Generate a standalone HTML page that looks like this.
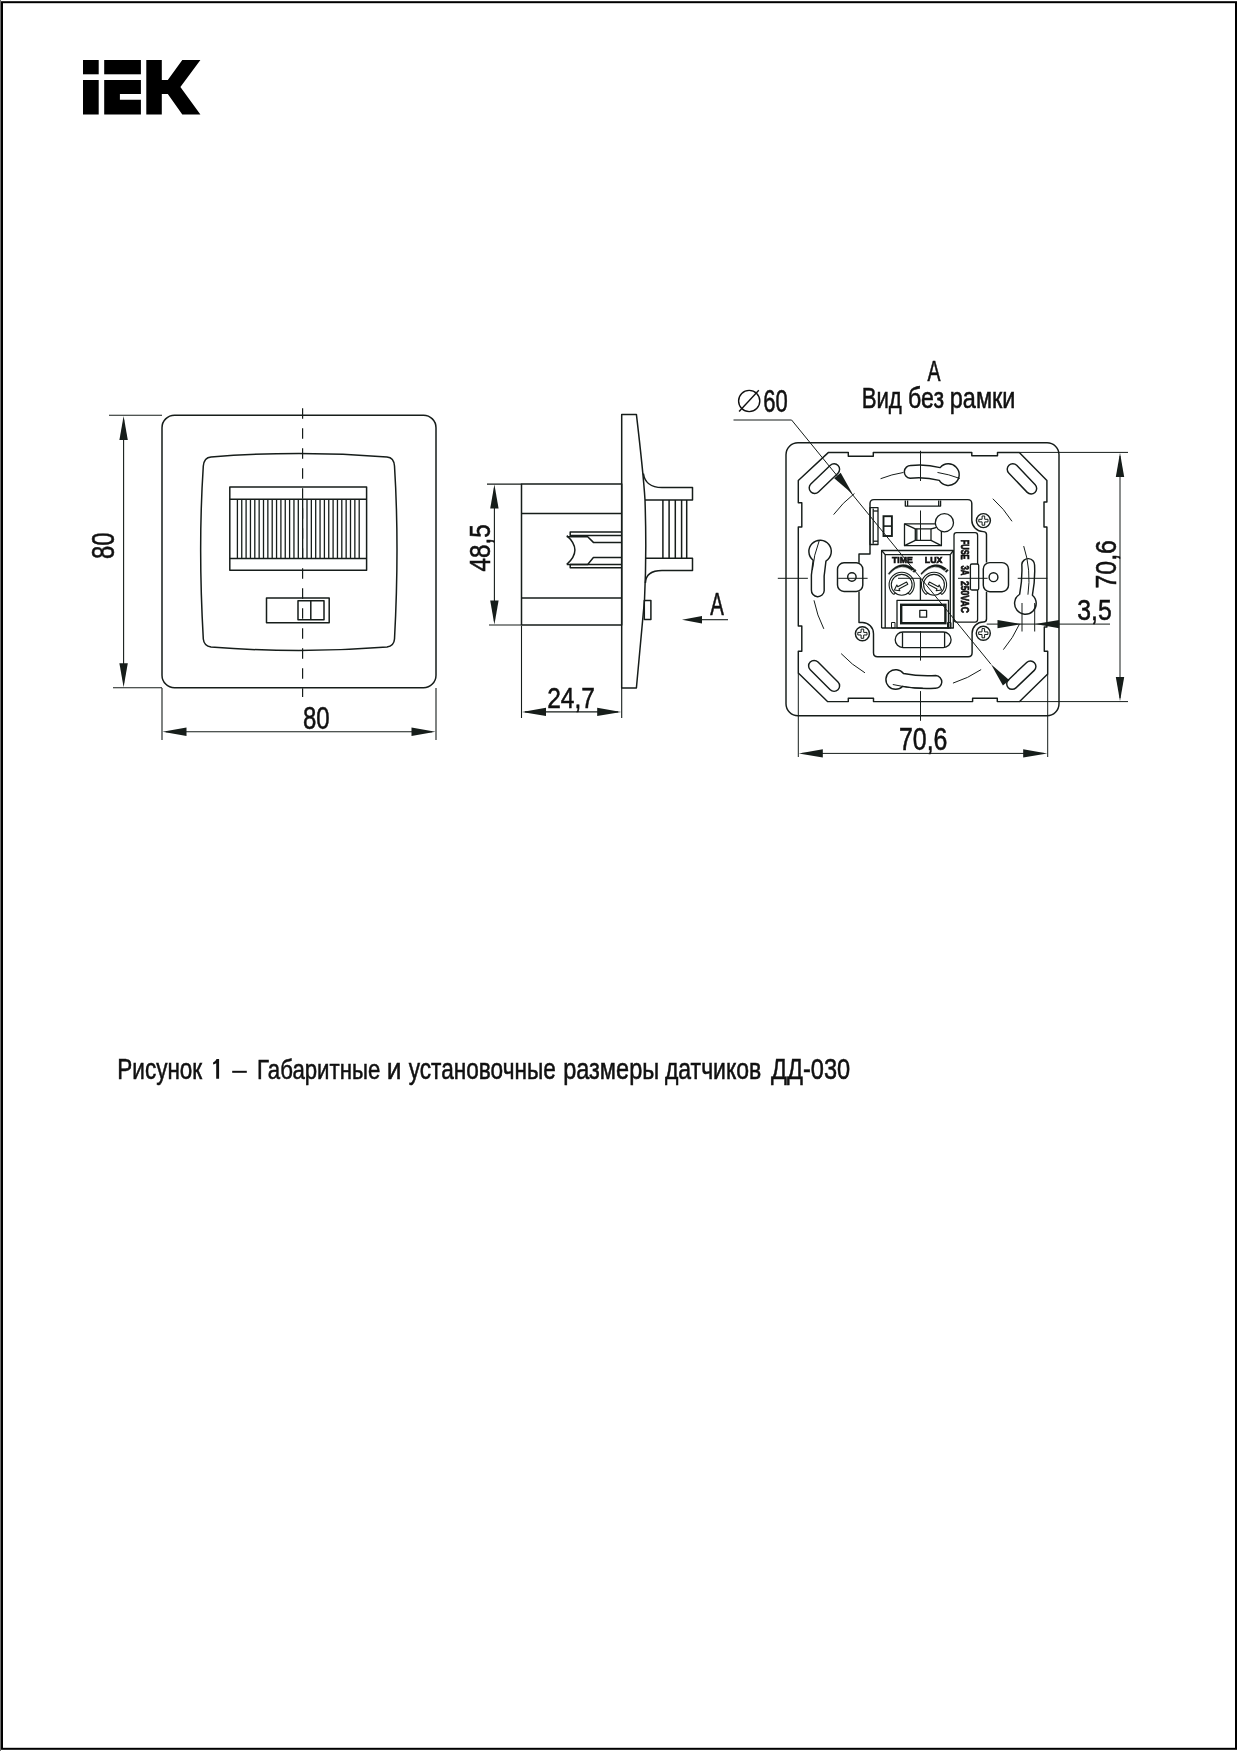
<!DOCTYPE html>
<html><head><meta charset="utf-8"><title>IEK ДД-030</title>
<style>html,body{margin:0;padding:0;background:#fff;}svg{display:block;will-change:transform;}</style>
</head><body><svg width="1238" height="1751" viewBox="0 0 1238 1751"><rect x="0" y="0" width="1" height="1751" fill="#6e6e6e"/><rect x="2" y="2.2" width="1234" height="1746.6" fill="none" stroke="#000" stroke-width="2"/><g fill="#000"><rect x="83" y="60" width="15.7" height="14.3"/><rect x="83" y="80" width="15.7" height="34.5"/><rect x="104.2" y="60" width="36.7" height="14.3"/><path d="M104.2 80 H140.9 V94.1 H119.9 V99.8 H140.9 V114.5 H104.2 Z"/><path d="M146.3 60 H161.8 V79.9 H167.8 L182.3 60 H200.4 L180.4 87 L200.4 114.5 H182.3 L167.8 94.1 H161.8 V114.5 H146.3 Z"/></g><g fill="none" stroke="#161d1a" stroke-width="1.5" stroke-linejoin="round" ><rect x="162" y="415.2" width="274" height="272.5" rx="12.5" ry="12.5"/><path d="M211 456.9 Q299 450 387 456.9 Q394 457.5 394.5 466 Q399.5 546.6 394.5 639 Q394 646 387 647 Q299 654 211 647 Q204 646 203.3 639 Q198 546.6 203.3 466 Q204 457.5 211 456.9 Z"/><rect x="229.8" y="487" width="136.8" height="83.2"/><line x1="229.80" y1="499.30" x2="366.60" y2="499.30"/><line x1="229.80" y1="558.50" x2="366.60" y2="558.50"/><rect x="266.5" y="598" width="62.7" height="24.7"/><rect x="298" y="600.7" width="26" height="19"/><line x1="310.80" y1="600.70" x2="310.80" y2="619.70"/></g><g fill="none" stroke="#161d1a" stroke-width="1.3" stroke-linejoin="round" ><line x1="237.40" y1="499.30" x2="237.40" y2="558.50"/><line x1="241.75" y1="499.30" x2="241.75" y2="558.50"/><line x1="246.10" y1="499.30" x2="246.10" y2="558.50"/><line x1="250.45" y1="499.30" x2="250.45" y2="558.50"/><line x1="254.80" y1="499.30" x2="254.80" y2="558.50"/><line x1="259.15" y1="499.30" x2="259.15" y2="558.50"/><line x1="263.50" y1="499.30" x2="263.50" y2="558.50"/><line x1="267.85" y1="499.30" x2="267.85" y2="558.50"/><line x1="272.20" y1="499.30" x2="272.20" y2="558.50"/><line x1="276.55" y1="499.30" x2="276.55" y2="558.50"/><line x1="280.90" y1="499.30" x2="280.90" y2="558.50"/><line x1="285.25" y1="499.30" x2="285.25" y2="558.50"/><line x1="289.60" y1="499.30" x2="289.60" y2="558.50"/><line x1="293.95" y1="499.30" x2="293.95" y2="558.50"/><line x1="298.30" y1="499.30" x2="298.30" y2="558.50"/><line x1="302.65" y1="499.30" x2="302.65" y2="558.50"/><line x1="307.00" y1="499.30" x2="307.00" y2="558.50"/><line x1="311.35" y1="499.30" x2="311.35" y2="558.50"/><line x1="315.70" y1="499.30" x2="315.70" y2="558.50"/><line x1="320.05" y1="499.30" x2="320.05" y2="558.50"/><line x1="324.40" y1="499.30" x2="324.40" y2="558.50"/><line x1="328.75" y1="499.30" x2="328.75" y2="558.50"/><line x1="333.10" y1="499.30" x2="333.10" y2="558.50"/><line x1="337.45" y1="499.30" x2="337.45" y2="558.50"/><line x1="341.80" y1="499.30" x2="341.80" y2="558.50"/><line x1="346.15" y1="499.30" x2="346.15" y2="558.50"/><line x1="350.50" y1="499.30" x2="350.50" y2="558.50"/><line x1="354.85" y1="499.30" x2="354.85" y2="558.50"/><line x1="359.20" y1="499.30" x2="359.20" y2="558.50"/></g><line x1="302.6" y1="408.3" x2="302.6" y2="697" stroke="#161d1a" stroke-width="1.2" stroke-dasharray="10.5 9.5"/><g fill="none" stroke="#161d1a" stroke-width="1.1" stroke-linejoin="round" ><line x1="109.00" y1="415.20" x2="162.00" y2="415.20"/><line x1="113.00" y1="687.70" x2="162.00" y2="687.70"/><line x1="123.60" y1="420.00" x2="123.60" y2="683.00"/><line x1="162.00" y1="688.00" x2="162.00" y2="740.00"/><line x1="436.00" y1="688.00" x2="436.00" y2="740.00"/><line x1="166.00" y1="731.80" x2="432.00" y2="731.80"/></g><path d="M123.60 416.00 L127.80 440.00 L119.40 440.00 Z" fill="#161d1a"/><path d="M123.60 687.20 L119.40 663.20 L127.80 663.20 Z" fill="#161d1a"/><path d="M162.50 731.80 L186.50 727.60 L186.50 736.00 Z" fill="#161d1a"/><path d="M435.50 731.80 L411.50 736.00 L411.50 727.60 Z" fill="#161d1a"/><text transform="translate(303.01 728.65) scale(0.7613 1)" font-size="31.51" vector-effect="non-scaling-stroke" style="font-family:'Liberation Sans',sans-serif;font-weight:normal;fill:#111;stroke:#111;stroke-width:0.5;">80</text><text transform="translate(113.65 557.95) rotate(-90) translate(-1.04 0) scale(0.7547 1)" font-size="31.65" vector-effect="non-scaling-stroke" style="font-family:'Liberation Sans',sans-serif;font-weight:normal;fill:#111;stroke:#111;stroke-width:0.5;">80</text><g fill="none" stroke="#161d1a" stroke-width="1.5" stroke-linejoin="round" ><path d="M621.7 414.4 H636.4 C640 445 643.5 475 645 500 C646 530 646 570 644.5 600 L636.4 688 H621.7 Z"/><rect x="521.5" y="484.1" width="100.2" height="140.9"/><line x1="521.50" y1="513.50" x2="621.70" y2="513.50"/><line x1="521.50" y1="597.90" x2="621.70" y2="597.90"/><path d="M621.7 532 H570.2 V535.4 H621.7"/><path d="M621.7 567.8 H570.2 V564.4 H621.7"/><path d="M566.8 535.6 Q583 550 566.8 564.4"/><path d="M566.8 536.7 H587.7 L593.4 542.4 H621.7"/><path d="M566.8 564.4 H587.7 L593.4 557.6 H621.7"/><path d="M643.4 473.5 C644.6 482 650 487.5 662 487.5 H692.5 V500 H645"/><path d="M645.8 558.2 H692.5 V570.6 H662 C651 570.6 645.8 575 645.4 583"/><line x1="662.90" y1="500.00" x2="662.90" y2="558.20"/><line x1="669.10" y1="500.00" x2="669.10" y2="558.20"/><line x1="675.30" y1="500.00" x2="675.30" y2="558.20"/><line x1="681.60" y1="500.00" x2="681.60" y2="558.20"/><line x1="686.70" y1="500.00" x2="686.70" y2="558.20"/><rect x="644.3" y="600.5" width="6.6" height="19"/></g><g fill="none" stroke="#161d1a" stroke-width="1.1" stroke-linejoin="round" ><line x1="487.00" y1="484.10" x2="521.50" y2="484.10"/><line x1="489.00" y1="625.00" x2="521.50" y2="625.00"/><line x1="494.40" y1="488.00" x2="494.40" y2="621.00"/><line x1="521.50" y1="626.00" x2="521.50" y2="718.00"/><line x1="621.70" y1="688.00" x2="621.70" y2="718.00"/><line x1="525.00" y1="711.90" x2="618.00" y2="711.90"/><line x1="700.00" y1="619.70" x2="728.00" y2="619.70"/></g><path d="M494.40 484.60 L498.60 508.60 L490.20 508.60 Z" fill="#161d1a"/><path d="M494.40 624.50 L490.20 600.50 L498.60 600.50 Z" fill="#161d1a"/><path d="M522.00 711.90 L546.00 707.70 L546.00 716.10 Z" fill="#161d1a"/><path d="M621.20 711.90 L597.20 716.10 L597.20 707.70 Z" fill="#161d1a"/><path d="M682.00 619.70 L702.00 615.90 L702.00 623.50 Z" fill="#161d1a"/><text transform="translate(547.22 708.35) scale(0.8122 1)" font-size="30.22" vector-effect="non-scaling-stroke" style="font-family:'Liberation Sans',sans-serif;font-weight:normal;fill:#111;stroke:#111;stroke-width:0.5;">24,7</text><text transform="translate(710.21 615.45) scale(0.6576 1)" font-size="30.96" vector-effect="non-scaling-stroke" style="font-family:'Liberation Sans',sans-serif;font-weight:normal;fill:#111;stroke:#111;stroke-width:0.5;">A</text><text transform="translate(489.65 570.95) rotate(-90) translate(-0.56 0) scale(0.8098 1)" font-size="29.93" vector-effect="non-scaling-stroke" style="font-family:'Liberation Sans',sans-serif;font-weight:normal;fill:#111;stroke:#111;stroke-width:0.5;">48,5</text><g fill="none" stroke="#161d1a" stroke-width="1.45" stroke-linejoin="round" ><rect x="786" y="442.8" width="273" height="272.9" rx="12" ry="12"/><path d="M828.5 452.4 H848.3 V456.2 H873.3 V452.4 H971.8 V455.8 H997.5 V452.4 H1019.3 L1046.9 480.6 V502 H1044 V527 H1046.9 V627 H1044.3 V651.2 H1047.7 V674 L1019.6 701.6 H997.3 V698.2 H972.6 V701.6 H873.5 V698.2 H848.3 V701.6 H827.5 L798.3 673 V651.2 H801.8 V626 H798.3 V527 H801.8 V502.7 H798.3 V480.5 Z"/><path d="M810.81 484.04 Q820.59 474.64 830.37 465.23 A5.5 5.5 0 0 1 837.99 473.16 Q828.21 482.56 818.43 491.97 A5.5 5.5 0 0 1 810.81 484.04 Z"/><path d="M1016.67 465.33 Q1025.93 475.06 1035.19 484.78 A5.5 5.5 0 0 1 1027.23 492.37 Q1017.97 482.64 1008.71 472.92 A5.5 5.5 0 0 1 1016.67 465.33 Z"/><path d="M818.00 662.02 Q827.99 672.01 837.98 682.00 A5.5 5.5 0 0 1 830.20 689.78 Q820.21 679.79 810.22 669.80 A5.5 5.5 0 0 1 818.00 662.02 Z"/><path d="M1008.33 679.93 Q1017.50 671.17 1026.68 662.41 A5.5 5.5 0 0 1 1034.27 670.37 Q1025.10 679.13 1015.92 687.89 A5.5 5.5 0 0 1 1008.33 679.93 Z"/><path d="M939.27 480.37 Q924.84 476.73 910.05 478.28 A6.4 6.4 0 0 1 910.95 465.52 Q925.75 463.96 940.18 467.60 A10.8 10.8 0 1 1 939.27 480.37 Z"/><path d="M903.49 673.56 Q919.52 676.53 935.79 675.51 A6.4 6.4 0 0 1 935.01 688.29 Q918.75 689.31 902.72 686.34 A9.8 9.8 0 1 1 903.49 673.56 Z"/><path d="M825.94 561.05 Q823.27 575.76 824.19 590.68 A6.4 6.4 0 0 1 811.41 589.92 Q810.49 575.00 813.17 560.30 A11.2 11.2 0 1 1 825.94 561.05 Z"/><path d="M1019.65 594.26 Q1022.53 579.43 1021.82 564.34 A6.4 6.4 0 0 1 1034.58 565.26 Q1035.29 580.35 1032.41 595.19 A10.8 10.8 0 1 1 1019.65 594.26 Z"/><rect x="837.5" y="562.8" width="25.3" height="28.7" rx="6.5"/><circle cx="851.9" cy="577" r="4.2"/><rect x="983.3" y="562.6" width="25.2" height="29.1" rx="6.5"/><circle cx="993.5" cy="577.2" r="4.4"/><path d="M874 499.6 H967.8 Q971.8 499.6 971.8 503.6 V520.3 A11.4 11.4 0 0 0 983.2 531.6 Q986.5 531.6 986.5 534.6 V562.6 M986.5 591.7 V619 Q986.5 622 983.3 622 A11.2 11.2 0 0 0 972.1 633.2 V652.7 Q972.1 656.7 968.1 656.7 H877.5 Q873.5 656.7 873.5 652.7 V633.7 A11.2 11.2 0 0 0 862.4 622.5 H859 V591.5 M859 562.8 V553.9 H870 V503.6 Q870 499.6 874 499.6"/><circle cx="983.4" cy="520.6" r="7"/><circle cx="983.3" cy="633.2" r="7"/><circle cx="862.4" cy="633.7" r="7"/></g><g fill="none" stroke="#161d1a" stroke-width="1.0" stroke-linejoin="round" ><path d="M982.10 516.00 h2.6 v3.3 h3.3 v2.6 h-3.3 v3.3 h-2.6 v-3.3 h-3.3 v-2.6 h3.3 Z"/><path d="M982.00 628.60 h2.6 v3.3 h3.3 v2.6 h-3.3 v3.3 h-2.6 v-3.3 h-3.3 v-2.6 h3.3 Z"/><path d="M861.10 629.10 h2.6 v3.3 h3.3 v2.6 h-3.3 v3.3 h-2.6 v-3.3 h-3.3 v-2.6 h3.3 Z"/></g><g fill="none" stroke="#161d1a" stroke-width="1.3" stroke-linejoin="round" ><path d="M905.3 500.4 V506.1 H940.6 V500.4 M907.6 500.4 V506.1 M938.7 500.4 V506.1"/><rect x="870" y="507.7" width="8" height="36.8"/><line x1="873.20" y1="508.50" x2="873.20" y2="543.80"/><line x1="873.20" y1="511.00" x2="878.00" y2="511.00"/><line x1="873.20" y1="541.20" x2="878.00" y2="541.20"/><rect x="904.5" y="523.8" width="36.9" height="21.9"/><rect x="915.3" y="528.8" width="15.7" height="11.5"/><line x1="916.80" y1="528.80" x2="916.80" y2="540.30"/><line x1="904.50" y1="523.80" x2="915.30" y2="528.80"/><line x1="904.50" y1="545.70" x2="915.30" y2="540.30"/><line x1="941.40" y1="545.70" x2="931.00" y2="540.30"/><path d="M931 528.8 Q936 528.5 940 525"/><path d="M881.6 628 V550.5 H953.3 V628"/><path d="M885.2 628 V554.6 H950.3 V628"/><line x1="881.60" y1="550.50" x2="885.20" y2="554.60"/><line x1="953.30" y1="550.50" x2="950.30" y2="554.60"/><line x1="881.60" y1="628.00" x2="953.80" y2="628.00"/><line x1="920.40" y1="578.20" x2="920.40" y2="600.30"/><rect x="897" y="600.3" width="51.5" height="27.7"/><rect x="919.8" y="610.4" width="6.8" height="6.8"/><rect x="954" y="532.7" width="23.6" height="89.4" rx="2.5"/><path d="M903.00 632.00 Q923.15 632.00 943.30 632.00 A7.8 7.8 0 0 1 943.30 647.60 Q923.15 647.60 903.00 647.60 A7.8 7.8 0 0 1 903.00 632.00 Z"/><line x1="902.50" y1="632.30" x2="902.50" y2="647.30"/><line x1="944.60" y1="632.30" x2="944.60" y2="647.30"/></g><circle cx="944.4" cy="522.7" r="9.1" fill="#fff" stroke="#161d1a" stroke-width="1.3"/><rect x="970.4" y="564" width="8.3" height="26" rx="1.5" fill="#fff" stroke="#161d1a" stroke-width="1.3"/><rect x="883.5" y="516.2" width="8.4" height="19.8" fill="none" stroke="#161d1a" stroke-width="1.9"/><line x1="883.50" y1="526.10" x2="891.90" y2="526.10" stroke="#161d1a" stroke-width="1.6"/><rect x="901.2" y="604.8" width="44.2" height="18.4" fill="none" stroke="#161d1a" stroke-width="2.4"/><path d="M891.5 622.5 h3.5 v5.5 h-3.5 Z M947.5 622.5 h3.5 v5.5 h-3.5 Z" fill="none" stroke="#161d1a" stroke-width="1"/><g fill="none" stroke="#161d1a" stroke-width="1.1" stroke-linejoin="round" ><circle cx="901.7" cy="584.8" r="10.4"/><circle cx="934.0" cy="584.8" r="10.4"/><path d="M893.60 594.45 A12.6 12.6 0 1 1 909.80 594.45"/><path d="M925.90 594.45 A12.6 12.6 0 1 1 942.10 594.45"/><path d="M893.60 594.45 L895.40 593.10 M909.80 594.45 L908.00 593.10"/><path d="M925.90 594.45 L927.70 593.10 M942.10 594.45 L940.30 593.10"/><path d="M907.79 584.36 L898.96 589.06 L899.85 590.73 L894.38 590.02 L896.85 585.08 L897.74 586.76 L906.57 582.07 Z"/><path d="M929.43 582.07 L938.26 586.76 L939.15 585.08 L941.62 590.02 L936.15 590.73 L937.04 589.06 L928.21 584.36 Z"/></g><path d="M888.3 573.6 Q901 557.5 916.2 570.2 L914.2 572.4 Q901 560.2 889.0 574.6 Z" fill="#161d1a" stroke="#161d1a" stroke-width="0.4"/><path d="M920.8 573.6 Q934.5 557.5 948.4 570.2 L946.4 572.4 Q934.5 560.2 921.5 574.6 Z" fill="#161d1a" stroke="#161d1a" stroke-width="0.4"/><path d="M914.5 569 L911.5 571.5 M946.8 569 L944 571.5" stroke="#fff" stroke-width="0.9"/><text transform="translate(892.05 563.25) scale(0.9143 1)" font-size="9.45" vector-effect="non-scaling-stroke" style="font-family:'Liberation Sans',sans-serif;font-weight:bold;fill:#111;stroke:#111;stroke-width:0.7;">TIME</text><text transform="translate(924.86 563.25) scale(0.9296 1)" font-size="9.45" vector-effect="non-scaling-stroke" style="font-family:'Liberation Sans',sans-serif;font-weight:bold;fill:#111;stroke:#111;stroke-width:0.7;">LUX</text><text transform="translate(960.80 540.30) rotate(90) translate(-0.50 0) scale(0.6557 1)" font-size="11.31" vector-effect="non-scaling-stroke" style="font-family:'Liberation Sans',sans-serif;font-weight:bold;fill:#111;stroke:#111;stroke-width:0.6;">FUSE</text><text transform="translate(960.80 565.60) rotate(90) translate(-0.18 0) scale(0.6976 1)" font-size="11.31" vector-effect="non-scaling-stroke" style="font-family:'Liberation Sans',sans-serif;font-weight:bold;fill:#111;stroke:#111;stroke-width:0.6;">3A</text><text transform="translate(960.80 581.30) rotate(90) translate(-0.30 0) scale(0.7608 1)" font-size="11.31" vector-effect="non-scaling-stroke" style="font-family:'Liberation Sans',sans-serif;font-weight:bold;fill:#111;stroke:#111;stroke-width:0.6;">250VAC</text><g fill="none" stroke="#161d1a" stroke-width="1.0" stroke-linejoin="round" ><path d="M823.83 628.86 A108.5 108.5 0 0 1 813.99 600.30"/><path d="M812.41 570.14 A108.5 108.5 0 0 1 819.21 540.72"/><path d="M833.62 514.61 A108.5 108.5 0 0 1 854.45 493.52"/><path d="M880.56 478.72 A108.5 108.5 0 0 1 903.53 472.44"/><path d="M937.47 472.44 A108.5 108.5 0 0 1 959.74 478.44"/><path d="M992.82 498.72 A108.5 108.5 0 0 1 1012.01 521.30"/><path d="M1023.69 546.07 A108.5 108.5 0 0 1 1027.94 594.70"/><path d="M1019.47 624.08 A108.5 108.5 0 0 1 1003.37 649.63"/><path d="M981.17 669.55 A108.5 108.5 0 0 1 952.95 683.14"/><path d="M922.77 688.08 A108.5 108.5 0 0 1 892.78 684.50"/><path d="M864.94 672.80 A108.5 108.5 0 0 1 841.15 653.60"/><path d="M733.5 420 H791.6 L991 664.3"/><line x1="777.80" y1="578.30" x2="807.90" y2="578.30"/><line x1="838.20" y1="578.30" x2="867.60" y2="578.30"/><line x1="898.00" y1="578.30" x2="920.70" y2="578.30"/><line x1="958.00" y1="578.30" x2="987.60" y2="578.30"/><line x1="1017.70" y1="578.30" x2="1047.30" y2="578.30"/><line x1="920.50" y1="450.80" x2="920.50" y2="481.00"/><line x1="920.50" y1="510.50" x2="920.50" y2="540.20"/><line x1="920.50" y1="631.00" x2="920.50" y2="660.60"/><line x1="920.50" y1="691.10" x2="920.50" y2="720.80"/><line x1="798.30" y1="673.00" x2="798.30" y2="757.00"/><line x1="1047.70" y1="674.00" x2="1047.70" y2="757.00"/><line x1="802.00" y1="753.40" x2="1044.00" y2="753.40"/><line x1="1019.30" y1="452.40" x2="1128.00" y2="452.40"/><line x1="1019.60" y1="701.60" x2="1128.00" y2="701.60"/><line x1="1120.00" y1="456.00" x2="1120.00" y2="698.00"/><line x1="1022.00" y1="603.00" x2="1022.00" y2="631.50"/><line x1="1034.70" y1="603.00" x2="1034.70" y2="631.50"/><line x1="986.70" y1="624.10" x2="1110.00" y2="624.10"/></g><path d="M852.60 494.10 L834.18 478.16 L840.69 472.85 Z" fill="#161d1a"/><path d="M991.00 664.30 L1009.42 680.24 L1002.91 685.55 Z" fill="#161d1a"/><path d="M798.80 753.40 L822.80 749.20 L822.80 757.60 Z" fill="#161d1a"/><path d="M1047.20 753.40 L1023.20 757.60 L1023.20 749.20 Z" fill="#161d1a"/><path d="M1120.00 452.90 L1124.20 476.90 L1115.80 476.90 Z" fill="#161d1a"/><path d="M1120.00 701.10 L1115.80 677.10 L1124.20 677.10 Z" fill="#161d1a"/><path d="M1021.50 624.10 L997.50 628.30 L997.50 619.90 Z" fill="#161d1a"/><path d="M1035.20 624.10 L1059.20 619.90 L1059.20 628.30 Z" fill="#161d1a"/><text transform="translate(927.61 380.85) scale(0.6659 1)" font-size="29.22" vector-effect="non-scaling-stroke" style="font-family:'Liberation Sans',sans-serif;font-weight:normal;fill:#111;stroke:#111;stroke-width:0.5;">A</text><text transform="translate(861.63 407.65) scale(0.7350 1)" font-size="30.23" vector-effect="non-scaling-stroke" style="font-family:'Liberation Sans',sans-serif;font-weight:normal;fill:#111;stroke:#111;stroke-width:0.5;">Вид</text><text transform="translate(908.09 407.65) scale(0.7770 1)" font-size="29.86" vector-effect="non-scaling-stroke" style="font-family:'Liberation Sans',sans-serif;font-weight:normal;fill:#111;stroke:#111;stroke-width:0.5;">без</text><text transform="translate(949.84 407.65) scale(0.8190 1)" font-size="28.62" vector-effect="non-scaling-stroke" style="font-family:'Liberation Sans',sans-serif;font-weight:normal;fill:#111;stroke:#111;stroke-width:0.5;">рамки</text><text transform="translate(763.33 412.45) scale(0.6953 1)" font-size="31.65" vector-effect="non-scaling-stroke" style="font-family:'Liberation Sans',sans-serif;font-weight:normal;fill:#111;stroke:#111;stroke-width:0.5;">60</text><circle cx="749.2" cy="401" r="10.6" fill="none" stroke="#111" stroke-width="1.4"/><line x1="739.1" y1="411.5" x2="758.8" y2="390.3" stroke="#111" stroke-width="1.4"/><text transform="translate(898.97 749.95) scale(0.8088 1)" font-size="30.79" vector-effect="non-scaling-stroke" style="font-family:'Liberation Sans',sans-serif;font-weight:normal;fill:#111;stroke:#111;stroke-width:0.5;">70,6</text><text transform="translate(1116.25 587.25) rotate(-90) translate(-1.28 0) scale(0.8281 1)" font-size="30.08" vector-effect="non-scaling-stroke" style="font-family:'Liberation Sans',sans-serif;font-weight:normal;fill:#111;stroke:#111;stroke-width:0.5;">70,6</text><text transform="translate(1077.31 619.75) scale(0.8368 1)" font-size="29.65" vector-effect="non-scaling-stroke" style="font-family:'Liberation Sans',sans-serif;font-weight:normal;fill:#111;stroke:#111;stroke-width:0.5;">3,5</text><text transform="translate(117.30 1079.35) scale(0.7449 1)" font-size="30.23" vector-effect="non-scaling-stroke" style="font-family:'Liberation Sans',sans-serif;font-weight:normal;fill:#111;stroke:#111;stroke-width:0.5;">Рисунок</text><path d="M216.6 1059 H219.1 V1078.8 H216.2 V1063.3 Q214.9 1064.3 213.1 1064.6 V1062.4 Q215.5 1061.5 216.6 1059 Z" fill="#111"/><rect x="232.2" y="1070.8" width="14.6" height="2.0" fill="#111"/><text transform="translate(257.03 1079.35) scale(0.7834 1)" font-size="28.36" vector-effect="non-scaling-stroke" style="font-family:'Liberation Sans',sans-serif;font-weight:normal;fill:#111;stroke:#111;stroke-width:0.5;">Габаритные</text><text transform="translate(386.82 1079.35) scale(0.8839 1)" font-size="29.91" vector-effect="non-scaling-stroke" style="font-family:'Liberation Sans',sans-serif;font-weight:normal;fill:#111;stroke:#111;stroke-width:0.5;">и</text><text transform="translate(408.69 1079.35) scale(0.7710 1)" font-size="29.36" vector-effect="non-scaling-stroke" style="font-family:'Liberation Sans',sans-serif;font-weight:normal;fill:#111;stroke:#111;stroke-width:0.5;">установочные</text><text transform="translate(563.13 1079.35) scale(0.8024 1)" font-size="29.36" vector-effect="non-scaling-stroke" style="font-family:'Liberation Sans',sans-serif;font-weight:normal;fill:#111;stroke:#111;stroke-width:0.5;">размеры</text><text transform="translate(664.93 1079.35) scale(0.7831 1)" font-size="29.36" vector-effect="non-scaling-stroke" style="font-family:'Liberation Sans',sans-serif;font-weight:normal;fill:#111;stroke:#111;stroke-width:0.5;">датчиков</text><text transform="translate(771.08 1079.35) scale(0.7912 1)" font-size="29.79" vector-effect="non-scaling-stroke" style="font-family:'Liberation Sans',sans-serif;font-weight:normal;fill:#111;stroke:#111;stroke-width:0.5;">ДД-030</text></svg></body></html>
